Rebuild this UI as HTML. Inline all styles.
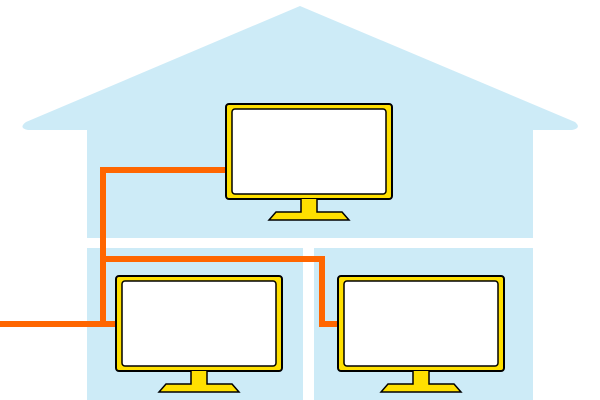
<!DOCTYPE html>
<html><head><style>html,body{margin:0;padding:0;background:#fff}svg{display:block}</style></head>
<body>
<svg width="600" height="400" viewBox="0 0 600 400" xmlns="http://www.w3.org/2000/svg">
<defs>
<g id="mon">
<rect x="0" y="0" width="166" height="95" rx="3" fill="#ffe000" stroke="#000" stroke-width="2"/>
<rect x="6" y="5" width="154" height="85" rx="3" fill="#fff" stroke="#000" stroke-width="1.5"/>
<path d="M75 95 L75 108 L50 108 L43 116 L123 116 L116 108 L91 108 L91 95" fill="#ffe000" stroke="#000" stroke-width="1.5"/>
</g>
</defs>
<path d="M300 6 L575 122 Q582 128 572 130 L533 130 L533 238 L87 238 L87 130 L28 130 Q18 128 26 122 Z" fill="#cdebf7"/>
<rect x="87" y="248" width="216" height="152" fill="#cdebf7"/>
<rect x="314" y="248" width="219" height="152" fill="#cdebf7"/>
<g fill="none" stroke="#ff6600" stroke-width="6">
<path d="M0 324 L118 324"/>
<path d="M103 324 L103 170 L228 170"/>
<path d="M103 259 L322 259 L322 324 L340 324"/>
</g>
<use href="#mon" x="226" y="104"/>
<use href="#mon" x="116" y="276"/>
<use href="#mon" x="338" y="276"/>
</svg>
</body></html>
